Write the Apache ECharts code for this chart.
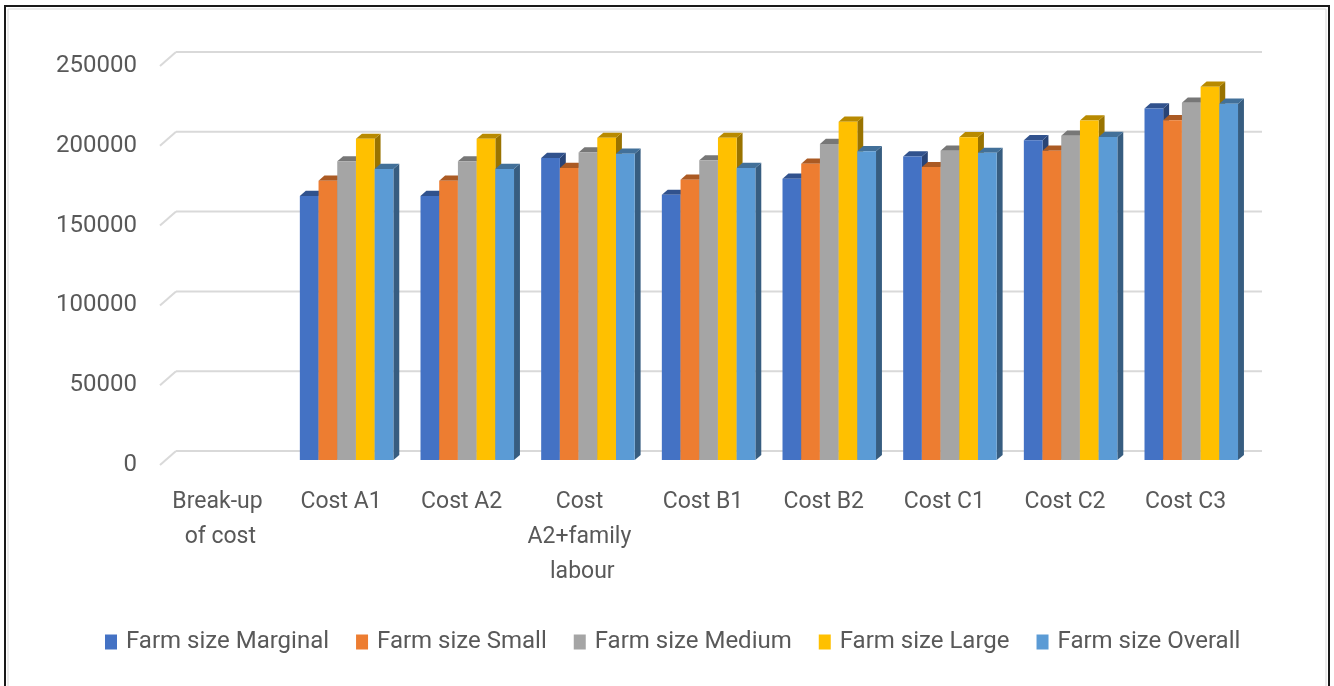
<!DOCTYPE html>
<html>
<head>
<meta charset="utf-8">
<script src="https://cdn.jsdelivr.net/npm/echarts/dist/echarts.min.js"></script>
<style>
  html, body { margin: 0; padding: 0; background: #fff; }
  #main { width: 1334px; height: 686px; }
</style>
</head>
<body>
<div id="main"></div>
<script>
// values (front face of each column)
const categories = ['Break-up of cost', 'Cost A1', 'Cost A2', 'Cost A2+family labour',
  'Cost B1', 'Cost B2', 'Cost C1', 'Cost C2', 'Cost C3'];
const marginal = [null, 165500, 165500, 189300, 166200, 176300, 190300, 200400, 220300];
const small    = [null, 175000, 175000, 183000, 175700, 185700, 183600, 193900, 213000];
const medium   = [null, 187200, 187200, 192800, 187800, 198100, 193900, 203300, 223900];
const large    = [null, 201300, 201300, 201900, 201900, 212000, 202300, 212800, 234000];
const overall  = [null, 182400, 182400, 192000, 183000, 193500, 192500, 202500, 223300];
const yTicks = [0, 50000, 100000, 150000, 200000, 250000];

const seriesNames = ['Farm size Marginal', 'Farm size Small', 'Farm size Medium',
  'Farm size Large', 'Farm size Overall'];
const seriesValues = [marginal, small, medium, large, overall];
const colors = ['#4472C4', '#ED7D31', '#A5A5A5', '#FFC000', '#5B9BD5'];

// fake 3d: shift of the back wall relative to the front plane
const DEPTH_X = 16, DEPTH_Y = -14;
const FRONT = 0.35;   // where the column front faces sit
const BAR_D = 0.37;   // column depth

function shade(hex, k) {
  const n = parseInt(hex.slice(1), 16);
  const r = Math.round(((n >> 16) & 255) * k);
  const g = Math.round(((n >> 8) & 255) * k);
  const b = Math.round((n & 255) * k);
  return 'rgb(' + r + ',' + g + ',' + b + ')';
}

function barRenderer(si) {
  const color = colors[si];
  const topC = shade(color, 0.72);
  const sideC = shade(color, 0.6);
  return function (params, api) {
    const ci = api.value(0), v = api.value(1);
    if (v == null || isNaN(v)) return;
    const base = api.coord([ci, 0]);
    const top = api.coord([ci, v]);
    const cw = api.size([1, 0])[0];
    const bw = cw * 0.155;
    const fx = base[0] - 2.5 * bw + si * bw + DEPTH_X * FRONT;
    const fy0 = base[1] + DEPTH_Y * FRONT;
    const fy1 = top[1] + DEPTH_Y * FRONT;
    const dx = DEPTH_X * BAR_D, dy = DEPTH_Y * BAR_D;
    return {
      type: 'group',
      children: [
        { type: 'polygon', shape: { points: [[fx + bw, fy1], [fx + bw + dx, fy1 + dy], [fx + bw + dx, fy0 + dy], [fx + bw, fy0]] },
          style: { fill: sideC } },
        { type: 'polygon', shape: { points: [[fx, fy1], [fx + bw, fy1], [fx + bw + dx, fy1 + dy], [fx + dx, fy1 + dy]] },
          style: { fill: topC } },
        { type: 'rect', shape: { x: fx, y: fy1, width: bw, height: fy0 - fy1 },
          style: { fill: color } }
      ]
    };
  };
}

function gridRenderer(params, api) {
  const cs = params.coordSys;
  const y = api.coord([0, api.value(1)])[1];
  const st = { stroke: '#D9D9D9', lineWidth: 2 };
  return {
    type: 'group',
    children: [
      { type: 'line', shape: { x1: cs.x, y1: y, x2: cs.x + DEPTH_X, y2: y + DEPTH_Y }, style: st },
      { type: 'line', shape: { x1: cs.x + DEPTH_X, y1: y + DEPTH_Y, x2: cs.x + cs.width + DEPTH_X, y2: y + DEPTH_Y }, style: st }
    ]
  };
}

const font = 'Roboto';
const textColor = '#595959';

const series = [{
  type: 'custom',
  silent: true,
  z: 1,
  renderItem: gridRenderer,
  encode: { x: 0, y: 1 },
  data: yTicks.map(v => [0, v])
}];
seriesNames.forEach((name, si) => {
  series.push({
    name: name,
    type: 'custom',
    z: 2,
    renderItem: barRenderer(si),
    itemStyle: { color: colors[si] },
    encode: { x: 0, y: 1 },
    data: categories.map((c, i) => [i, seriesValues[si][i]])
  });
});

const chart = echarts.init(document.getElementById('main'));
chart.setOption({
  backgroundColor: '#fff',
  animation: false,
  textStyle: { fontFamily: font },
  graphic: [
    { type: 'rect', shape: { x: 5, y: 6, width: 1324, height: 700 },
      style: { fill: 'none', stroke: '#1a1a1a', lineWidth: 2 }, z: 10 },
    { type: 'rect', shape: { x: 8, y: 9, width: 1318, height: 700 },
      style: { fill: 'none', stroke: '#D9D9D9', lineWidth: 1 }, z: 10 }
  ],
  grid: { left: 160, right: 88, top: 66, bottom: 221 },
  legend: {
    data: seriesNames,
    bottom: 27,
    left: 100,
    icon: 'rect',
    itemWidth: 12,
    itemHeight: 15,
    itemGap: 27,
    textStyle: { fontFamily: font, fontSize: 24, color: textColor, padding: [0, 0, 0, 4] }
  },
  xAxis: {
    type: 'category',
    data: categories,
    axisLine: { show: false },
    axisTick: { show: false },
    axisLabel: {
      interval: 0,
      margin: 20,
      fontFamily: font,
      fontSize: 23,
      lineHeight: 35,
      color: textColor,
      width: 112,
      overflow: 'break'
    }
  },
  yAxis: {
    type: 'value',
    min: 0,
    max: 250000,
    interval: 50000,
    axisLine: { show: false },
    axisTick: { show: false },
    splitLine: { show: false },
    axisLabel: { margin: 23, fontFamily: font, fontSize: 24, color: textColor,
      formatter: v => String(v) }
  },
  series: series
});
</script>
</body>
</html>
